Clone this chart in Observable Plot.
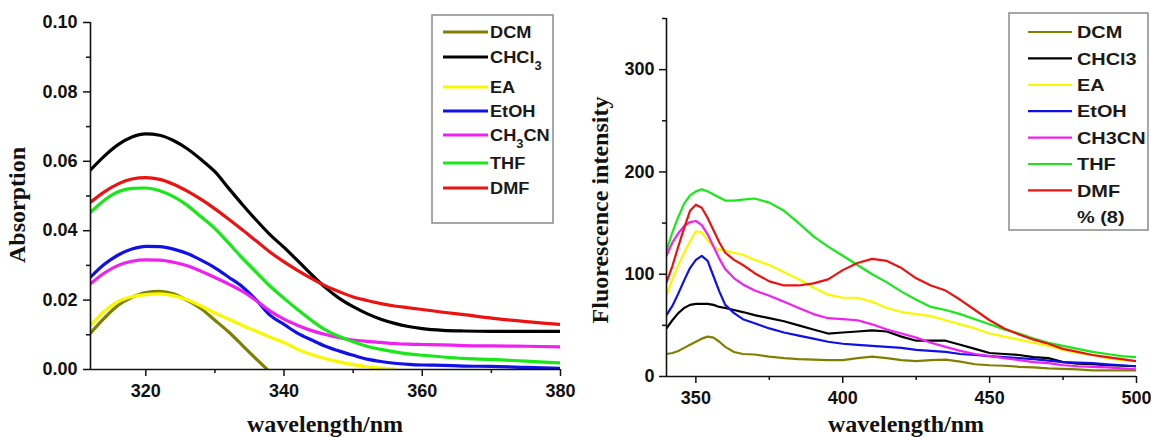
<!DOCTYPE html>
<html>
<head>
<meta charset="utf-8">
<script src="https://cdn.jsdelivr.net/npm/d3@7"></script>
<script src="https://cdn.jsdelivr.net/npm/@observablehq/plot@0.6"></script>
<style>
  html, body { margin: 0; padding: 0; background: #fff; }
  #wrap { position: relative; width: 1151px; height: 437px; overflow: hidden; background: #fff; }
  #wrap > svg, #wrap > figure { position: absolute; top: 0; margin: 0; }
  #left { left: 0; }
  #right { left: 580px; }
  #overlay { left: 0; pointer-events: none; }
</style>
</head>
<body>
<div id="wrap"></div>
<script>
// ---------------- data ----------------
const solvents = ["DCM", "CHCl3", "EA", "EtOH", "CH3CN", "THF", "DMF"];
const solventColors = ["#808000", "#000000", "#f8f800", "#1010e8", "#f020f0", "#18e818", "#ec1212"];

// Absorption (left panel)
const absWavelength = [312, 314, 316, 318, 320, 322, 324, 326, 328, 330, 332, 334, 336, 338, 340, 342, 344, 346, 348, 350, 352, 354, 356, 358, 360, 363, 366, 370, 375, 380];
const absDCM   = [0.0105, 0.0148, 0.0185, 0.0208, 0.0222, 0.0225, 0.0218, 0.0199, 0.0175, 0.0142, 0.0108, 0.0069, 0.0030, -0.0008, null, null, null, null, null, null, null, null, null, null, null, null, null, null, null, null];
const absCHCl3 = [0.0575, 0.0615, 0.0648, 0.0670, 0.0679, 0.0675, 0.0660, 0.0636, 0.0605, 0.0570, 0.0522, 0.0475, 0.0430, 0.0388, 0.0352, 0.0313, 0.0273, 0.0236, 0.0205, 0.0181, 0.0161, 0.0145, 0.0133, 0.0124, 0.0118, 0.0113, 0.0111, 0.0110, 0.0110, 0.0110];
const absEA    = [0.0127, 0.0168, 0.0196, 0.0210, 0.0216, 0.0218, 0.0213, 0.0201, 0.0183, 0.0163, 0.0145, 0.0127, 0.0110, 0.0093, 0.0078, 0.0058, 0.0043, 0.0031, 0.0022, 0.0014, 0.0008, 0.0004, 0.0001, null, null, null, null, null, null, null];
const absEtOH  = [0.0266, 0.0303, 0.0330, 0.0347, 0.0355, 0.0354, 0.0347, 0.0334, 0.0315, 0.0293, 0.0266, 0.0238, 0.0200, 0.0156, 0.0130, 0.0104, 0.0085, 0.0067, 0.0053, 0.0041, 0.0030, 0.0023, 0.0018, 0.0015, 0.0013, 0.0012, 0.0010, 0.0009, 0.0006, 0.0003];
const absCH3CN = [0.0247, 0.0278, 0.0300, 0.0312, 0.0316, 0.0315, 0.0309, 0.0299, 0.0283, 0.0265, 0.0246, 0.0225, 0.0198, 0.0168, 0.0145, 0.0127, 0.0112, 0.0101, 0.0092, 0.0085, 0.0081, 0.0078, 0.0075, 0.0073, 0.0072, 0.0071, 0.0069, 0.0068, 0.0067, 0.0065];
const absTHF   = [0.0453, 0.0488, 0.0512, 0.0522, 0.0523, 0.0515, 0.0498, 0.0473, 0.0440, 0.0406, 0.0364, 0.0320, 0.0280, 0.0240, 0.0205, 0.0172, 0.0141, 0.0114, 0.0095, 0.0080, 0.0067, 0.0058, 0.0051, 0.0045, 0.0041, 0.0036, 0.0032, 0.0029, 0.0024, 0.0019];
const absDMF   = [0.0482, 0.0512, 0.0535, 0.0549, 0.0553, 0.0548, 0.0534, 0.0514, 0.0490, 0.0463, 0.0433, 0.0402, 0.0370, 0.0338, 0.0310, 0.0285, 0.0262, 0.0241, 0.0224, 0.0209, 0.0199, 0.0190, 0.0183, 0.0178, 0.0173, 0.0165, 0.0158, 0.0148, 0.0138, 0.0130];
const absXTicks = [320, 340, 360, 380];
const absXMinor = [330, 350, 370];
const absYTicks = [0, 0.02, 0.04, 0.06, 0.08, 0.10];
const absYMinor = [0.01, 0.03, 0.05, 0.07, 0.09];

// Fluorescence (right panel)
const fluWavelength = [340, 342, 344, 346, 348, 350, 352, 354, 356, 358, 360, 363, 366, 370, 375, 380, 385, 390, 395, 400, 405, 410, 415, 420, 425, 430, 435, 440, 445, 450, 455, 460, 465, 470, 475, 480, 485, 490, 495, 500];
const fluDCM   = [22, 23, 25, 28, 31, 34, 37, 39, 38, 34, 29, 24, 22, 21.5, 19.5, 18, 17, 16.5, 16, 16, 18, 19.5, 18, 16, 15, 16, 16.5, 14.5, 12, 11, 10.5, 9.5, 9, 8, 7.5, 7, 6, 6, 6, 6];
const fluCHCl3 = [47, 55, 62, 67, 70, 71, 71, 71, 70, 68, 67, 65, 63, 60, 57, 54, 50, 46, 42, 43, 44, 45, 44, 39, 35, 35, 35, 31, 27, 23, 22, 21, 19, 18, 14, 12.5, 12, 11, 10.5, 10];
const fluEA    = [79, 95, 109, 121, 132, 142, 141, 133, 127, 124, 123, 121, 119, 114, 109, 102, 95, 87, 80, 77, 77, 73, 67, 63, 61, 59, 55, 51, 47, 42, 39, 36, 33, 30, 26, 23, 21, 18, 16, 15];
const fluEtOH  = [60, 69, 81, 94, 106, 114, 118, 113, 98, 83, 70, 62, 56, 52, 47, 43, 40, 37, 34, 32, 31, 30, 29, 28, 26, 25, 24, 22, 21, 20, 19, 18, 17, 15.5, 14, 13.5, 13, 12, 11, 10];
const fluCH3CN = [118, 131, 140, 147, 151, 152, 148, 139, 127, 115, 105, 96, 90, 84, 79, 73, 67, 61, 57, 56, 55, 51, 46, 42, 38, 33, 29, 25, 22, 20, 18, 16, 14, 13, 11, 10, 9.5, 9, 8, 7];
const fluTHF   = [123, 141, 156, 169, 177, 181, 183, 181, 178, 175, 172, 172, 173, 174, 170, 162, 150, 137, 127, 118, 109, 100, 92, 83, 75, 68, 65, 61, 56, 51, 46, 42, 37, 33, 30, 27, 24, 22, 20, 19];
const fluDMF   = [92, 108, 127, 145, 162, 168, 165, 155, 143, 131, 121, 114, 109, 101, 93, 89, 89, 91, 95, 104, 111, 115, 113, 106, 96, 89, 84, 75, 65, 55, 47, 41, 36, 32, 27, 24, 21, 19, 17, 15];
const fluXTicks = [350, 400, 450, 500];
const fluXMinor = [375, 425, 475];
const fluYTicks = [0, 100, 200, 300];
const fluYMinor = [50, 150, 250, 350];

// legend labels ("|" marks a subscript part)
const legendLeftLabels = ["DCM", "CHCl|3", "EA", "EtOH", "CH|3|CN", "THF", "DMF"];
const legendRightLabels = ["DCM", "CHCl3", "EA", "EtOH", "CH3CN", "THF", "DMF"];
const legendRightExtra = "% (8)";

// ---------------- build tables ----------------
function longTable(xs, series) {
  const out = [];
  series.forEach((vals, i) => {
    vals.forEach((v, j) => { if (v != null) out.push({ w: xs[j], v, s: solvents[i] }); });
  });
  return out;
}
const absData = longTable(absWavelength, [absDCM, absCHCl3, absEA, absEtOH, absCH3CN, absTHF, absDMF]);
const fluData = longTable(fluWavelength, [fluDCM, fluCHCl3, fluEA, fluEtOH, fluCH3CN, fluTHF, fluDMF]);

const tickFont = { fontSize: 18, fontWeight: "bold", fontFamily: "Liberation Sans, Arial, sans-serif", fill: "#111" };

function panel({ data, width, marginLeft, marginRight, marginTop, marginBottom, xDomain, yDomain, xTicks, xMinor, yTicks, yMinor, yFormat, lineWidth, curve, yPad }) {
  return Plot.plot({
    width, height: 437,
    marginLeft, marginRight, marginTop, marginBottom,
    style: { background: "transparent", overflow: "visible" },
    x: { domain: xDomain },
    y: { domain: yDomain },
    color: { domain: solvents, range: solventColors },
    marks: [
      Plot.line(data, { x: "w", y: "v", z: "s", stroke: "s", strokeWidth: lineWidth, curve, clip: true }),
      Plot.ruleY([yDomain[0]], { stroke: "#111", strokeWidth: 1.6 }),
      Plot.ruleX([xDomain[0]], { stroke: "#111", strokeWidth: 1.6 }),
      Plot.axisX({ ticks: xTicks, tickSize: 7, tickPadding: 8, strokeWidth: 1.5, stroke: "#111", label: null, ...tickFont }),
      Plot.axisX({ ticks: xMinor, tickSize: 4, tickFormat: () => "", strokeWidth: 1.5, stroke: "#111", label: null }),
      Plot.axisY({ ticks: yTicks, tickSize: 7, tickPadding: yPad, tickFormat: yFormat, strokeWidth: 1.5, stroke: "#111", label: null, ...tickFont }),
      Plot.axisY({ ticks: yMinor, tickSize: 4, tickFormat: () => "", strokeWidth: 1.5, stroke: "#111", label: null })
    ]
  });
}

const left = panel({
  data: absData, width: 580, marginLeft: 90, marginRight: 20, marginTop: 22, marginBottom: 68,
  xDomain: [312, 380], yDomain: [0, 0.1], xTicks: absXTicks, xMinor: absXMinor,
  yTicks: absYTicks, yMinor: absYMinor, yFormat: d3.format(".2f"), lineWidth: 3.2, curve: "monotone-x", yPad: 6
});
left.id = "left";

const right = panel({
  data: fluData, width: 571, marginLeft: 86, marginRight: 15, marginTop: 18, marginBottom: 61,
  xDomain: [340, 500], yDomain: [0, 350], xTicks: fluXTicks, xMinor: fluXMinor,
  yTicks: fluYTicks, yMinor: fluYMinor, yFormat: d3.format("d"), lineWidth: 2.2, curve: "linear", yPad: 5
});
right.id = "right";

const wrap = document.getElementById("wrap");
wrap.appendChild(left);
wrap.appendChild(right);

// ---------------- overlay: titles and legends ----------------
const ov = d3.select(wrap).append("svg").attr("id", "overlay")
  .attr("width", 1151).attr("height", 437);

const serif = "Liberation Serif, Times New Roman, serif";
const sans = "Liberation Sans, Arial, sans-serif";

function title(x, y, text, rotate) {
  ov.append("text")
    .attr("transform", `translate(${x},${y})` + (rotate ? " rotate(-90)" : ""))
    .attr("text-anchor", "middle").attr("dominant-baseline", "central")
    .attr("font-family", serif).attr("font-weight", "bold").attr("font-size", 24)
    .attr("fill", "#111").text(text);
}
title(325, 424, "wavelength/nm", false);
title(17, 205, "Absorption", true);
title(906, 424, "wavelength/nm", false);
title(600, 210, "Fluorescence intensity", true);

function legendText(g, x, y, lab, stretch) {
  const t = g.append("text")
    .attr("transform", `translate(${x},${y}) scale(${stretch},1)`)
    .attr("font-family", sans).attr("font-weight", "bold").attr("font-size", 17).attr("fill", "#1a1a1a");
  lab.split("|").forEach((p, k) => {
    const ts = t.append("tspan").text(p);
    if (k % 2 === 1) ts.attr("font-size", 12).attr("dy", 7);
    else if (k > 0) ts.attr("dy", -7);
  });
}

function legend({ x, y, w, h, lineX1, lineX2, textX, rows, labels, extraRow, extra, lineWidth, stretch }) {
  const g = ov.append("g");
  g.append("rect").attr("x", x).attr("y", y).attr("width", w).attr("height", h)
    .attr("fill", "#fff").attr("stroke", "#8a8a8a").attr("stroke-width", 1.5);
  labels.forEach((lab, i) => {
    const cy = rows[i];
    g.append("line").attr("x1", lineX1).attr("x2", lineX2).attr("y1", cy).attr("y2", cy)
      .attr("stroke", solventColors[i]).attr("stroke-width", lineWidth);
    legendText(g, textX, cy + 6.2, lab, stretch);
  });
  if (extra) legendText(g, textX, extraRow + 6.2, extra, stretch);
}
legend({ x: 432, y: 15, w: 121, h: 208, lineX1: 443, lineX2: 488, textX: 490,
  rows: [32, 57, 87, 111, 135, 163, 188], labels: legendLeftLabels, lineWidth: 3.2, stretch: 1.07 });
legend({ x: 1009, y: 13, w: 139, h: 217, lineX1: 1028, lineX2: 1072, textX: 1077,
  rows: [32, 58.4, 84.8, 111.2, 137.6, 164, 190.4], labels: legendRightLabels,
  extraRow: 216.8, extra: legendRightExtra, lineWidth: 2.2, stretch: 1.17 });
</script>
</body>
</html>
